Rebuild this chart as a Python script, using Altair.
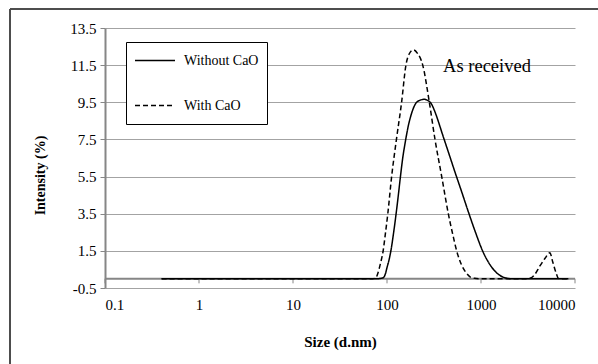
import altair as alt
import pandas as pd

# ---- data ----
series_names = ["Without CaO", "With CaO"]

size_without = [0.4, 10, 78, 86, 91, 96, 100, 105, 110, 117, 125, 132, 139, 147, 157, 168,
                180, 201, 222, 248, 270, 294, 320, 350, 385, 451, 528, 621, 728, 873, 1050,
                1248, 1480, 1800, 2100, 5000, 8500]
int_without = [0, 0, 0, 0.02, 0.05, 0.25, 0.6, 1.0, 1.5, 2.4, 3.5, 4.5, 5.5, 6.5, 7.4, 8.2,
               8.8, 9.42, 9.6, 9.66, 9.6, 9.45, 9.05, 8.5, 7.85, 6.8, 5.75, 4.7, 3.65, 2.5,
               1.45, 0.75, 0.3, 0.05, 0, 0, 0]

size_with = [0.4, 10, 70, 76, 80, 85, 91, 96, 102, 112, 126, 143, 159, 172, 191, 210, 240,
             282, 324, 382, 449, 500, 551, 620, 700, 764, 850, 950, 3000, 3300, 3700, 4250,
             4800, 5400, 5800, 6300, 6650, 7000, 8500]
int_with = [0, 0, 0, 0.05, 0.3, 0.8, 1.5, 2.4, 3.5, 5.5, 7.5, 9.5, 11.5, 12.1, 12.32, 12.15,
            11.5, 9.5, 7.5, 5.5, 3.5, 2.4, 1.5, 0.75, 0.3, 0.1, 0.02, 0, 0, 0.02, 0.2, 0.7,
            1.1, 1.4, 0.9, 0.3, 0.02, 0, 0]

x_ticks = [0.1, 1, 10, 100, 1000, 10000]
y_ticks = [-0.5, 1.5, 3.5, 5.5, 7.5, 9.5, 11.5, 13.5]

annotation_text = ["As received"]
annotation_size = [395]
annotation_intensity = [11.45]

# ---- tables ----
df = pd.concat([
    pd.DataFrame({"size": size_without, "intensity": int_without, "series": series_names[0]}),
    pd.DataFrame({"size": size_with, "intensity": int_with, "series": series_names[1]}),
], ignore_index=True)
ticks_df = pd.DataFrame({"size": x_ticks, "intensity": [0] * len(x_ticks),
                         "low": [-0.25] * len(x_ticks)})
zero_df = pd.DataFrame({"intensity": [0]})
ann_df = pd.DataFrame({"size": annotation_size, "intensity": annotation_intensity,
                       "label": annotation_text})
one = pd.DataFrame({"a": [0]})

FONT = "'Liberation Serif', 'Times New Roman', serif"
GRID = "#a3a3a3"
AXIS = "#868686"

x_scale = alt.Scale(type="log", domain=[0.1, 10000])
y_scale = alt.Scale(domain=[-0.5, 13.5], nice=False, zero=False)

x_axis = alt.Axis(values=x_ticks, format="~g", title="Size (d.nm)", grid=False, domain=False,
                  ticks=False, labelFont=FONT, labelFontSize=15, labelColor="black",
                  labelPadding=9, labelOverlap=False, titleFont=FONT, titleFontSize=15,
                  titleFontWeight="bold", titleColor="black", titleY=53,
                  titleBaseline="middle")
y_axis = alt.Axis(values=y_ticks, title="Intensity (%)",
                  labelExpr="datum.value < 0 ? '-' + format(-datum.value, '.1f') : format(datum.value, '.1f')",
                  grid=True, gridColor=GRID, gridWidth=1, domainColor=AXIS, domainWidth=2,
                  tickColor=AXIS, tickSize=5, tickWidth=1, labelFont=FONT, labelFontSize=15,
                  labelColor="black", labelPadding=4, labelOverlap=False, titleFont=FONT,
                  titleFontSize=14, titleFontWeight="bold", titleColor="black", titleX=-65,
                  titleY=147, titleAlign="center", titleBaseline="middle")


def X(field="size"):
    return alt.X(f"{field}:Q", scale=x_scale, axis=x_axis)


def Y(field="intensity"):
    return alt.Y(f"{field}:Q", scale=y_scale, axis=y_axis)


zero_line = alt.Chart(zero_df).mark_rule(color=AXIS, strokeWidth=2).encode(y=Y())

x_tickmarks = alt.Chart(ticks_df).mark_rule(color=AXIS, strokeWidth=1).encode(
    x=X(), y=Y(), y2="low:Q"
)

lines = alt.Chart(df).mark_line(color="black", strokeWidth=1.5, interpolate="monotone").encode(
    x=X(),
    y=Y(),
    strokeDash=alt.StrokeDash(
        "series:N",
        scale=alt.Scale(domain=series_names, range=[[1, 0], [5, 3]]),
        legend=alt.Legend(title=None, orient="none", legendX=21, legendY=14,
                          strokeColor="black", fillColor="white", padding=8,
                          symbolType="stroke", symbolSize=1600, symbolStrokeWidth=1.5,
                          symbolStrokeColor="black", labelFont=FONT, labelFontSize=14,
                          labelColor="black", labelOffset=8, rowPadding=24, clipHeight=21),
    ),
)

annotation = alt.Chart(ann_df).mark_text(align="left", baseline="middle", font=FONT,
                                         fontSize=18.5, color="black").encode(
    x=X(), y=Y(), text="label:N",
)

frame_left = alt.Chart(one).mark_rule(color="#4d4d4d", strokeWidth=2).encode(
    x=alt.value(-95), y=alt.value(-19), y2=alt.value(345)
)
frame_top = alt.Chart(one).mark_rule(color="#4d4d4d", strokeWidth=2).encode(
    x=alt.value(-95), x2=alt.value(500), y=alt.value(-19)
)

chart = alt.layer(
    zero_line, x_tickmarks, lines, annotation, frame_left, frame_top
).properties(
    width=470, height=260,
    padding={"left": 105, "top": 28, "right": 23, "bottom": 76},
    autosize=alt.AutoSizeParams(type="none"),
).configure_view(stroke=None)

chart.save("out.html", embed_options={"renderer": "svg", "actions": False})
